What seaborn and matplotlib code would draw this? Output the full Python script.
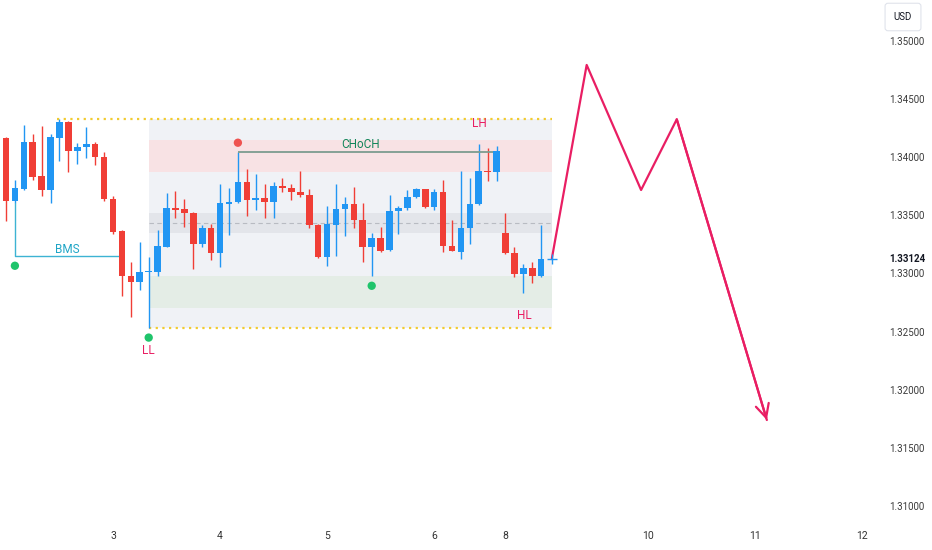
import numpy as np
import seaborn as sns
import matplotlib.pyplot as plt

# 2H candles, x = bar index
opens = [1.34160, 1.33624, 1.33724, 1.34131, 1.33836, 1.33716, 1.34165, 1.34297, 1.34053, 1.34088,
         1.34108, 1.34002, 1.33636, 1.33363, 1.32979, 1.32928, 1.33009, 1.33009, 1.33229, 1.33558,
         1.33552, 1.33521, 1.33252, 1.33392, 1.33172, 1.33598, 1.33610, 1.33784, 1.33630, 1.33649,
         1.33610, 1.33750, 1.33735, 1.33701, 1.33673, 1.33415, 1.33137, 1.33415, 1.33550, 1.33593,
         1.33458, 1.33229, 1.33301, 1.33200, 1.33538, 1.33558, 1.33653, 1.33724, 1.33567, 1.33696,
         1.33235, 1.33186, 1.33392, 1.33593, 1.33879, 1.33868, 1.33344, 1.33177, 1.32994, 1.33048,
         1.32977]
highs = [1.34171, 1.33802, 1.34274, 1.34197, 1.34265, 1.34194, 1.34323, 1.34308, 1.34117, 1.34259,
         1.34131, 1.34040, 1.33664, 1.33372, 1.33095, 1.33271, 1.33143, 1.33372, 1.33687, 1.33707,
         1.33636, 1.33527, 1.33415, 1.33421, 1.33767, 1.33730, 1.34042, 1.33893, 1.33853, 1.33767,
         1.33787, 1.33816, 1.33767, 1.33879, 1.33722, 1.33424, 1.33578, 1.33767, 1.33653, 1.33739,
         1.33601, 1.33349, 1.33400, 1.33673, 1.33578, 1.33716, 1.33730, 1.33728, 1.33724, 1.33802,
         1.33458, 1.33879, 1.33816, 1.34108, 1.34074, 1.34094, 1.33515, 1.33229, 1.33080, 1.33100,
         1.33415]
lows = [1.33452, 1.33604, 1.33720, 1.33802, 1.33664, 1.33607, 1.33965, 1.33873, 1.33939, 1.33988,
        1.33930, 1.33624, 1.33338, 1.32808, 1.32627, 1.32857, 1.32528, 1.32979, 1.33225, 1.33473,
        1.33395, 1.33037, 1.33229, 1.33114, 1.33057, 1.33329, 1.33605, 1.33492, 1.33544, 1.33473,
        1.33473, 1.33701, 1.33630, 1.33658, 1.33387, 1.33131, 1.33063, 1.33151, 1.33323, 1.33387,
        1.33100, 1.32979, 1.33187, 1.33194, 1.33338, 1.33544, 1.33650, 1.33565, 1.33544, 1.33186,
        1.33189, 1.33120, 1.33252, 1.33590, 1.33793, 1.33796, 1.33170, 1.32966, 1.32828, 1.32914,
        1.32971]
closes = [1.33624, 1.33730, 1.34131, 1.33830, 1.33716, 1.34168, 1.34297, 1.34053, 1.34085, 1.34108,
          1.34002, 1.33636, 1.33357, 1.32979, 1.32925, 1.33009, 1.33017, 1.33235, 1.33558, 1.33546,
          1.33521, 1.33252, 1.33392, 1.33172, 1.33601, 1.33610, 1.33784, 1.33630, 1.33649, 1.33610,
          1.33750, 1.33730, 1.33696, 1.33673, 1.33415, 1.33137, 1.33424, 1.33550, 1.33593, 1.33458,
          1.33229, 1.33301, 1.33194, 1.33538, 1.33564, 1.33653, 1.33724, 1.33567, 1.33696, 1.33235,
          1.33192, 1.33392, 1.33593, 1.33879, 1.33873, 1.34051, 1.33172, 1.32994, 1.33048, 1.32977,
          1.33124]

day_ticks = [12, 24, 36, 48, 56, 72, 84, 96]
day_labels = ["3", "4", "5", "6", "8", "10", "11", "12"]
price_ticks = [1.310, 1.315, 1.320, 1.325, 1.330, 1.335, 1.340, 1.345, 1.350]
last_price = 1.33124

# range box and zones
range_top = 1.34328
range_bottom = 1.32528
supply_zone = (1.33873, 1.34145)
mid_zone = (1.33349, 1.33515)
mid_line = 1.33430
demand_zone = (1.32704, 1.32977)
zone_start, zone_end = 16, 61.2

choch_level = 1.34042
bms_level = 1.33146

# projected path
proj_x = [61.2, 65.1, 71.2, 75.2, 85.3]
proj_y = [1.33129, 1.34790, 1.33716, 1.34323, 1.31740]

# swing markers
swing_x = [1, 16, 41, 26]
swing_y = [1.33065, 1.32448, 1.32893, 1.34122]
swing_kind = ["low", "low", "low", "high"]

BLUE = "#2196F3"
RED = "#F03E36"
PINK = "#E91E63"

sns.set_theme(style="white")
plt.rcParams["font.family"] = ["Roboto", "DejaVu Sans"]

fig = plt.figure(figsize=(9.32, 5.5), dpi=100)
ax = fig.add_axes([0, 30 / 550, 878 / 932, 520 / 550])
ax.set_facecolor("white")

# zones
ax.fill_between([zone_start, zone_end], range_bottom, range_top, color="#f0f2f6", lw=0, zorder=1)
ax.fill_between([zone_start, zone_end], *supply_zone, color="#f8e2e4", lw=0, zorder=1)
ax.fill_between([zone_start, zone_end], *mid_zone, color="#e3e5ea", lw=0, zorder=1)
ax.fill_between([zone_start, zone_end], *demand_zone, color="#e4ede6", lw=0, zorder=1)
ax.hlines(mid_line, zone_start, zone_end, colors="#b8bbc2", linestyles=(0, (4, 3)), lw=0.8, zorder=2)
ax.hlines(range_top, 5.7, zone_end, colors="#f2cb2e", linestyles=(0, (1, 2)), lw=1.6, zorder=2)
ax.hlines(range_bottom, zone_start, zone_end, colors="#f2cb2e", linestyles=(0, (1, 2)), lw=1.6, zorder=2)

# candles
o = np.array(opens)
c = np.array(closes)
idx = np.arange(len(o))
cols = np.where(c >= o, BLUE, RED)
ax.vlines(idx, lows, highs, colors=cols, lw=1, zorder=3)
ax.bar(idx, np.maximum(np.abs(c - o), 0.00009), bottom=np.minimum(o, c), width=0.74,
       color=cols, lw=0, zorder=4)

# BMS / CHoCH
ax.plot([1, 1, 12.7], [lows[1], bms_level, bms_level], color="#3db3d3", lw=1, zorder=3)
ax.text(6.9, bms_level + 0.0006, "BMS", color="#1fa5c6", fontsize=8.5, ha="center", va="center")
ax.hlines(choch_level, 26, 54.8, colors="#7d9c8f", lw=1.3, zorder=3)
ax.text(39.7, choch_level + 0.00062, "CHoCH", color="#14865a", fontsize=8.5, ha="center", va="center")

ax.text(53.1, 1.34291, "LH", color=PINK, fontsize=8.5, ha="center", va="center")
ax.text(58.1, 1.32642, "HL", color=PINK, fontsize=8.5, ha="center", va="center")
ax.text(16, 1.32335, "LL", color=PINK, fontsize=8.5, ha="center", va="center")

sns.scatterplot(x=swing_x, y=swing_y, hue=swing_kind, palette={"low": "#1fc46b", "high": "#ef5350"},
                s=36, edgecolor="none", legend=False, ax=ax, zorder=5)

# projection
sns.lineplot(x=proj_x, y=proj_y, sort=False, estimator=None, color=PINK, lw=1.6, ax=ax, zorder=6)
ax.annotate("", xy=(proj_x[-1], proj_y[-1]), xytext=(proj_x[-2], proj_y[-2]),
            arrowprops=dict(arrowstyle="->,head_length=0.8,head_width=0.4", color=PINK, lw=1.6,
                            shrinkA=0, shrinkB=0), zorder=6)
ax.plot(proj_x[0], last_price, marker="+", ms=7, mew=1, color=BLUE, zorder=7)

# axes
ax.set_xlim(-0.67, 97.76)
ax.set_ylim(1.30881, 1.35348)
for s in ax.spines.values():
    s.set_visible(False)
ax.grid(False)
ax.yaxis.tick_right()
ax.set_yticks(price_ticks, [f"{p:.5f}" for p in price_ticks])
ax.set_xticks(day_ticks, day_labels)
ax.tick_params(axis="y", length=0, pad=8, labelsize=7, labelcolor="#3a3a3a")
ax.tick_params(axis="x", length=0, pad=8, labelsize=7.5, labelcolor="#333333")
ax.text(1 + 11 / 878, last_price, f"{last_price:.5f}", transform=ax.get_yaxis_transform(),
        ha="left", va="center", fontsize=7, color="#131722", fontweight="bold")

fig.text(903 / 932, 1 - 17 / 550, "USD", ha="center", va="center", fontsize=7, color="#131722",
         bbox=dict(boxstyle="round,pad=0.9,rounding_size=0.3", fc="white", ec="#e0e3eb", lw=0.8))

fig.savefig("out.png", dpi=100)
